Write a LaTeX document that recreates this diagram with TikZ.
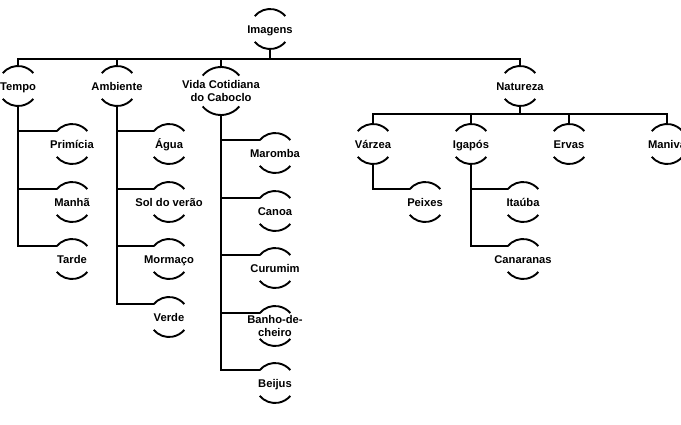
\documentclass[tikz,border=0pt]{standalone}
\usepackage{fontspec}
\setmainfont{Liberation Sans}
\usetikzlibrary{calc}
\newcommand\tx[1]{\makebox[0pt]{\raisebox{-4.6pt}[0pt][0pt]{\begin{tabular}{@{}c@{}}#1\end{tabular}}}}
\tikzset{
  capn/.style={circle, draw=none, inner sep=0pt, outer sep=0pt, minimum size=40pt,
    font=\fontsize{11.2}{13}\selectfont\bfseries},
  capline/.style={line width=1.9pt},
  link/.style={line width=1.9pt, line join=miter}
}
\newcommand\capnode[4][20pt]{%
  \node[capn, minimum size=2*#1] (#2) at (#3) {\tx{#4}};
  \draw[capline] (#2.140) arc[start angle=140, end angle=40, radius=#1];
  \draw[capline] (#2.220) arc[start angle=220, end angle=320, radius=#1];
}
\begin{document}
\begin{tikzpicture}[x=1pt,y=1pt]
\useasboundingbox (0,0) rectangle (681,-424);
\clip (0,0) rectangle (681,-424);
% nodes
\capnode{img}{270,-29}{Imagens}
\capnode{tempo}{18,-86}{Tempo}
\capnode{amb}{117,-86}{Ambiente}
\capnode[24pt]{vida}{221,-91}{Vida Cotidiana\\do Caboclo}
\capnode{nat}{520,-86}{Natureza}
% Tempo
\capnode{prim}{72,-144}{Primícia}
\capnode{manha}{72,-202}{Manhã}
\capnode{tarde}{72,-259}{Tarde}
% Ambiente
\capnode{agua}{169,-144}{Água}
\capnode{sol}{169,-202}{Sol do verão}
\capnode{morm}{169,-259}{Mormaço}
\capnode{verde}{169,-317}{Verde}
% Vida
\capnode{maro}{275,-153}{Maromba}
\capnode{canoa}{275,-211}{Canoa}
\capnode{curu}{275,-268}{Curumim}
\capnode{banho}{275,-326}{Banho-de-\\cheiro}
\capnode{beij}{275,-383}{Beijus}
% Natureza
\capnode{varz}{373,-144}{Várzea}
\capnode{igap}{471,-144}{Igapós}
\capnode{ervas}{569,-144}{Ervas}
\capnode{maniva}{667,-144}{Maniva}
\capnode{peix}{425,-202}{Peixes}
\capnode{itau}{523,-202}{Itaúba}
\capnode{cana}{523,-259}{Canaranas}
% connectors: top bus
\coordinate (b0) at ($(img.south)+(0,-10pt)$);
\draw[link] (img.south) -- (b0);
\draw[link] (tempo.north) |- (b0);
\draw[link] (nat.north) |- (b0);
\draw[link] (amb.north) -- (amb.north |- b0);
\draw[link] (vida.north) -- (vida.north |- b0);
% Natureza bus
\coordinate (b1) at ($(nat.south)+(0,-8pt)$);
\draw[link] (nat.south) -- (b1);
\draw[link] (varz.north) |- (b1);
\draw[link] (maniva.north) |- (b1);
\draw[link] (igap.north) -- (igap.north |- b1);
\draw[link] (ervas.north) -- (ervas.north |- b1);
% Tempo children
\draw[link] (tempo.south) |- (tarde.140);
\draw[link] (tempo.south |- prim.140) -- (prim.140);
\draw[link] (tempo.south |- manha.140) -- (manha.140);
% Ambiente children
\draw[link] (amb.south) |- (verde.140);
\draw[link] (amb.south |- agua.140) -- (agua.140);
\draw[link] (amb.south |- sol.140) -- (sol.140);
\draw[link] (amb.south |- morm.140) -- (morm.140);
% Vida children
\draw[link] (vida.south) |- (beij.140);
\draw[link] (vida.south |- maro.140) -- (maro.140);
\draw[link] (vida.south |- canoa.140) -- (canoa.140);
\draw[link] (vida.south |- curu.140) -- (curu.140);
\draw[link] (vida.south |- banho.140) -- (banho.140);
% Várzea / Igapós children
\draw[link] (varz.south) |- (peix.140);
\draw[link] (igap.south) |- (cana.140);
\draw[link] (igap.south |- itau.140) -- (itau.140);
\end{tikzpicture}
\end{document}
